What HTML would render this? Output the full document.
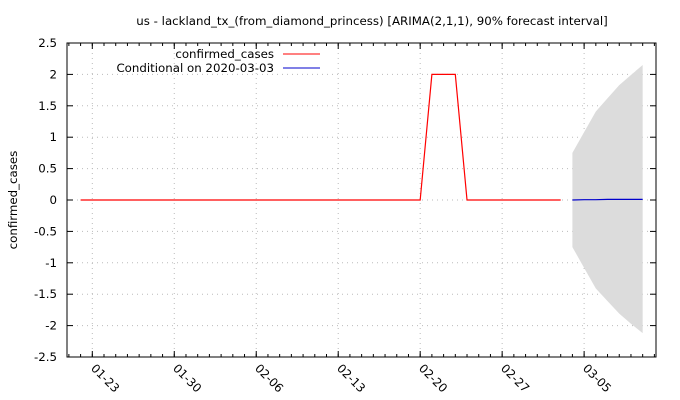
<!DOCTYPE html>
<html><head><meta charset="utf-8"><style>
body{margin:0;background:#fff}
svg{display:block;font-family:"DejaVu Sans",sans-serif;font-size:11.8px}
</style></head><body>
<svg id="c" width="680" height="400"></svg>
<script>
const startDay = -1; // days relative to 2020-01-23
const confirmedCases = [0,0,0,0,0,0,0,0,0,0,0,0,0,0,0,0,0,0,0,0,0,0,0,0,0,0,0,0,0,0,2,2,2,0,0,0,0,0,0,0,0,0];
const forecastStartDay = 41;
const forecastMean = [0,0.005,0.005,0.01,0.01,0.01,0.01];
const forecastUpper = [0.75,1.08,1.41,1.62,1.83,1.99,2.15];
const forecastLower = [-0.75,-1.08,-1.41,-1.61,-1.81,-1.97,-2.12];
const xTickDays = [0,7,14,21,28,35,42];
const xTickLabels = ["01-23","01-30","02-06","02-13","02-20","02-27","03-05"];
const yTicks = [-2.5,-2,-1.5,-1,-0.5,0,0.5,1,1.5,2,2.5];
const yTickLabels = ["-2.5","-2","-1.5","-1","-0.5","0","0.5","1","1.5","2","2.5"];

const L=67,R=656,T=43,B=357;
const X=d=>92.3+d*11.71;
const Y=v=>200-v*62.8;
const svg=document.getElementById('c');
const NS='http://www.w3.org/2000/svg';
function mk(t,a,p){const e=document.createElementNS(NS,t);for(const k in a)e.setAttribute(k,a[k]);(p||svg).appendChild(e);return e;}

let e=mk('text',{x:372,y:25,'text-anchor':'middle',fill:'#000'});


e.textContent='us - lackland_tx_(from_diamond_princess) [ARIMA(2,1,1), 90% forecast interval]';

yTicks.forEach((v,i)=>{
  if(v>-2.5&&v<2.5){const g=mk('line',{x1:L,x2:R,y1:Y(v),y2:Y(v),stroke:'#bbb','stroke-dasharray':'1,4'});
  
  }
  const t=mk('line',{x1:L,x2:L+6,y1:Y(v),y2:Y(v),stroke:'#000'});
  
  
  mk('line',{x1:R-6,x2:R,y1:Y(v),y2:Y(v),stroke:'#000'});
  const l=mk('text',{x:L-10,y:Y(v)+4,'text-anchor':'end'});
  
  
  l.textContent=yTickLabels[i];
});
for(let d=-2;d<=48;d++){const x=X(d);if(x<L||x>R)continue;
  mk('line',{x1:x,x2:x,y1:B,y2:B-3,stroke:'#000'});mk('line',{x1:x,x2:x,y1:T,y2:T+3,stroke:'#000'});}
xTickDays.forEach((d,i)=>{const x=X(d);
  const g=mk('line',{x1:x,x2:x,y1:T,y2:B,stroke:'#bbb','stroke-dasharray':'1,4'});
  
  
  mk('line',{x1:x,x2:x,y1:B,y2:B-6,stroke:'#000'});mk('line',{x1:x,x2:x,y1:T,y2:T+6,stroke:'#000'});
  const l=mk('text',{x:x-2,y:B+12,transform:`rotate(45 ${x-2} ${B+12})`});
  
  
  l.textContent=xTickLabels[i];
});
let pts=forecastUpper.map((v,i)=>X(forecastStartDay+i)+','+Y(v));
pts=pts.concat(forecastLower.map((v,i)=>X(forecastStartDay+i)+','+Y(v)).reverse());
e=mk('polygon',{points:pts.join(' '),fill:'#dcdcdc'});


e=mk('polyline',{points:confirmedCases.map((v,i)=>X(startDay+i)+','+Y(v)).join(' '),fill:'none',stroke:'#f00','stroke-width':1.2});


e=mk('polyline',{points:forecastMean.map((v,i)=>X(forecastStartDay+i)+','+Y(v)).join(' '),fill:'none',stroke:'#00c','stroke-width':1.2});


e=mk('rect',{x:L,y:T,width:R-L,height:B-T,fill:'none',stroke:'#000'});


e=mk('text',{x:17,y:200,'text-anchor':'middle',transform:'rotate(-90 17 200)'});


e.textContent='confirmed_cases';
e=mk('text',{x:274,y:58,'text-anchor':'end'});


e.textContent='confirmed_cases';
e=mk('line',{x1:283,x2:320,y1:54,y2:54,stroke:'#f00'});


e=mk('text',{x:274,y:72,'text-anchor':'end'});


e.textContent='Conditional on 2020-03-03';
e=mk('line',{x1:283,x2:320,y1:68,y2:68,stroke:'#00c'});


</script>
</body></html>
